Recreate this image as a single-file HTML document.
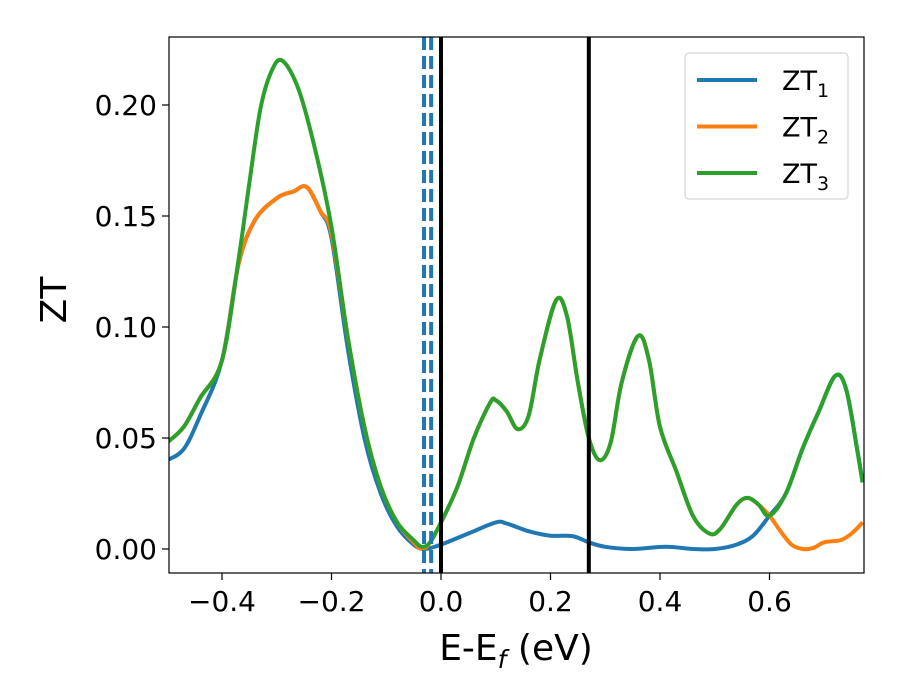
<!DOCTYPE html>
<html><head><meta charset="utf-8"><style>
body{margin:0;background:#fff}
svg{display:block;font-family:"DejaVu Sans","Liberation Sans",sans-serif}
</style></head><body>
<svg id="chart" width="900" height="700" viewBox="0 0 900 700" xmlns="http://www.w3.org/2000/svg">
<rect width="900" height="700" fill="#fff"/>
<defs><clipPath id="clip"><rect x="169" y="37" width="695" height="536"/></clipPath></defs>
<g id="series" clip-path="url(#clip)"></g>
<rect x="169" y="37" width="695" height="536" fill="none" stroke="#000" stroke-width="1.2"/>
<g id="axes"></g>
<text x="516" y="660" font-size="36" text-anchor="middle">E-E<tspan font-size="25" dy="8" font-style="italic">f</tspan><tspan dy="-8"> (eV)</tspan></text>
<text transform="translate(66,300) rotate(-90)" font-size="36" text-anchor="middle">ZT</text>
<g>
<rect x="685" y="53" width="163" height="146" rx="4" fill="#fff" stroke="#ccc" stroke-width="1"/>
<g id="legend"></g>
</g>
</svg>
<script>
const xTicks=[-0.4,-0.2,0.0,0.2,0.4,0.6];
const xTickLabels=["\u22120.4","\u22120.2","0.0","0.2","0.4","0.6"];
const yTicks=[0,0.05,0.10,0.15,0.20];
const yTickLabels=["0.00","0.05","0.10","0.15","0.20"];
const seriesNames=["ZT","ZT","ZT"];
const seriesSubs=["1","2","3"];
const colors=["#1f77b4","#ff7f0e","#2ca02c"];
const blueX=[-0.5,-0.47,-0.44,-0.40,-0.37,-0.34,-0.30,-0.27,-0.245,-0.22,-0.20,-0.17,-0.14,-0.11,-0.08,-0.05,-0.03,0.0,0.05,0.10,0.12,0.16,0.20,0.24,0.27,0.30,0.35,0.41,0.46,0.50,0.54,0.57,0.60,0.63,0.66,0.69,0.72,0.74,0.76,0.77];
const blueY=[0.040,0.045,0.060,0.085,0.128,0.148,0.158,0.161,0.163,0.152,0.140,0.090,0.050,0.025,0.010,0.002,0.0,0.002,0.007,0.012,0.0115,0.008,0.006,0.0058,0.003,0.001,0.0,0.001,0.0,0.0,0.002,0.006,0.015,0.025,0.045,0.062,0.078,0.072,0.045,0.030];
const orangeX=[-0.5,-0.47,-0.44,-0.40,-0.37,-0.34,-0.30,-0.27,-0.245,-0.22,-0.20,-0.17,-0.14,-0.11,-0.08,-0.05,-0.035,-0.02,0.0,0.03,0.06,0.09,0.10,0.12,0.14,0.16,0.18,0.21,0.23,0.25,0.27,0.29,0.31,0.33,0.36,0.38,0.40,0.43,0.46,0.49,0.51,0.54,0.56,0.58,0.60,0.62,0.64,0.66,0.68,0.70,0.73,0.75,0.77];
const orangeY=[0.048,0.055,0.068,0.085,0.128,0.148,0.158,0.161,0.163,0.152,0.142,0.095,0.055,0.028,0.012,0.003,0.0,0.003,0.012,0.028,0.050,0.066,0.067,0.062,0.054,0.060,0.085,0.112,0.105,0.075,0.050,0.040,0.048,0.075,0.096,0.085,0.055,0.035,0.015,0.007,0.009,0.020,0.023,0.020,0.015,0.008,0.002,0.0,0.0005,0.003,0.004,0.007,0.012];
const greenX=[-0.5,-0.47,-0.44,-0.40,-0.37,-0.35,-0.33,-0.31,-0.29,-0.26,-0.23,-0.20,-0.17,-0.14,-0.11,-0.08,-0.05,-0.035,-0.02,0.0,0.03,0.06,0.09,0.10,0.12,0.14,0.16,0.18,0.21,0.23,0.25,0.27,0.29,0.31,0.33,0.36,0.38,0.40,0.43,0.46,0.49,0.51,0.54,0.56,0.58,0.60,0.63,0.66,0.69,0.72,0.74,0.76,0.77];
const greenY=[0.048,0.055,0.068,0.085,0.130,0.165,0.198,0.215,0.220,0.207,0.180,0.145,0.095,0.055,0.028,0.012,0.004,0.001,0.003,0.012,0.028,0.050,0.066,0.067,0.062,0.054,0.060,0.085,0.112,0.105,0.075,0.050,0.040,0.048,0.075,0.096,0.085,0.055,0.035,0.015,0.007,0.009,0.020,0.023,0.020,0.015,0.025,0.045,0.062,0.078,0.072,0.045,0.030];
const dashedLines=[-0.031,-0.018];
const solidLines=[0.0,0.27];

const NS="http://www.w3.org/2000/svg";
function xs(v){return 441+v*547.5;}
function ys(v){return 549-v*2220;}
function mk(tag,attrs,parent){const e=document.createElementNS(NS,tag);for(const k in attrs)e.setAttribute(k,attrs[k]);parent.appendChild(e);return e;}
function smoothPath(xa,ya){
  const p=xa.map((x,i)=>[xs(x),ys(ya[i])]);
  let d="M"+p[0][0].toFixed(1)+","+p[0][1].toFixed(1);
  for(let i=0;i<p.length-1;i++){
    const p0=p[Math.max(0,i-1)],p1=p[i],p2=p[i+1],p3=p[Math.min(p.length-1,i+2)];
    const c1=[p1[0]+(p2[0]-p0[0])/6,p1[1]+(p2[1]-p0[1])/6];
    const c2=[p2[0]-(p3[0]-p1[0])/6,p2[1]-(p3[1]-p1[1])/6];
    d+=" C"+c1.map(v=>v.toFixed(1)).join(",")+" "+c2.map(v=>v.toFixed(1)).join(",")+" "+p2[0].toFixed(1)+","+p2[1].toFixed(1);
  }
  return d;
}
const g=document.getElementById("series");
const series=[[blueX,blueY],[orangeX,orangeY],[greenX,greenY]];
const sNames=["series-zt1","series-zt2","series-zt3"];
series.forEach((s,i)=>{
  const p=mk("path",{d:smoothPath(s[0],s[1]),fill:"none",stroke:colors[i],"stroke-width":4,"stroke-linejoin":"round"},g);
  
  
});
dashedLines.forEach(v=>{
  const l=mk("line",{x1:xs(v),x2:xs(v),y1:37,y2:573,stroke:"#1f77b4","stroke-width":4,"stroke-dasharray":"13 6"},g);
  
  
});
solidLines.forEach(v=>{
  const l=mk("line",{x1:xs(v),x2:xs(v),y1:37,y2:573,stroke:"#000","stroke-width":4},g);
  
  
});
const ax=document.getElementById("axes");
xTicks.forEach((v,i)=>{
  const x=xs(v);
  const t=mk("line",{x1:x,x2:x,y1:573,y2:580,stroke:"#000","stroke-width":1.2},ax);
  
  
  const tx=mk("text",{x:x,y:611,"font-size":28,"text-anchor":"middle"},ax);
  tx.textContent=xTickLabels[i];
  
  
});
yTicks.forEach((v,i)=>{
  const y=ys(v);
  const t=mk("line",{x1:162,x2:169,y1:y,y2:y,stroke:"#000","stroke-width":1.2},ax);
  
  
  const tx=mk("text",{x:157,y:y+10,"font-size":28,"text-anchor":"end"},ax);
  tx.textContent=yTickLabels[i];
  
  
});
const lg=document.getElementById("legend");
seriesNames.forEach((n,i)=>{
  const y=80+i*46.5;
  const l=mk("line",{x1:697,x2:757,y1:y,y2:y,stroke:colors[i],"stroke-width":4},lg);
  
  
  const t=mk("text",{x:782,y:y+10,"font-size":27},lg);
  t.innerHTML=n+'<tspan font-size="19" dy="7">'+seriesSubs[i]+'</tspan>';
  
  
});
</script>
</body></html>
